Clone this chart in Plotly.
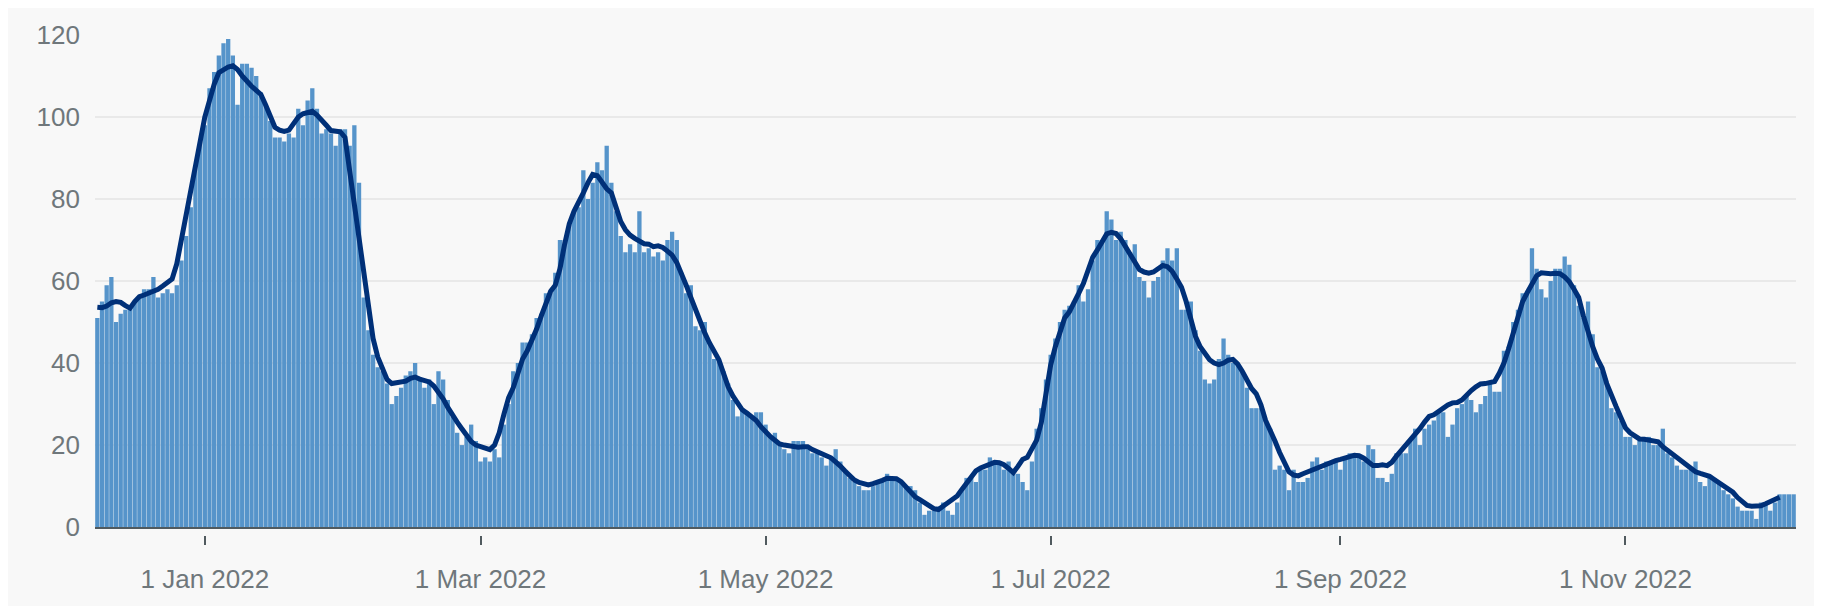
import pandas as pd
import plotly.graph_objects as go

# ---------------- data ----------------
start_date = "2021-12-09"

cases_dec_2021 = [51, 55, 59, 61, 50, 52, 53, 54, 55, 56, 58, 58, 61, 56, 57, 58, 57, 59, 65, 71, 78, 88, 94]
cases_jan_2022 = [98, 107, 111, 115, 118, 119, 115, 103, 113, 113, 112, 110, 106, 103, 99, 95, 95, 94, 96, 95,
                  102, 98, 104, 107, 102, 96, 97, 96, 93, 97, 97]
cases_feb_2022 = [93, 98, 84, 56, 48, 42, 39, 38, 35, 30, 32, 34, 37, 38, 40, 36, 34, 36, 30, 38, 36, 31, 27, 23,
                  20, 22, 25, 21]
cases_mar_2022 = [16, 17, 16, 19, 17, 25, 30, 38, 40, 45, 45, 47, 51, 52, 57, 57, 62, 70, 70, 74, 77, 78, 87, 80,
                  84, 89, 87, 93, 84, 77, 71]
cases_apr_2022 = [67, 69, 67, 77, 67, 68, 66, 67, 65, 70, 72, 70, 62, 57, 59, 49, 48, 50, 45, 41, 41, 38, 35, 31,
                  27, 29, 28, 27, 28, 28]
cases_may_2022 = [25, 22, 23, 20, 19, 18, 21, 21, 21, 19, 18, 18, 17, 15, 17, 19, 16, 14, 12, 11, 10, 9, 9, 10,
                  11, 11, 13, 12, 12, 11, 10]
cases_jun_2022 = [10, 9, 6, 3, 4, 4, 5, 6, 4, 3, 6, 9, 12, 12, 11, 14, 14, 17, 16, 16, 14, 16, 13, 13, 11, 9, 16,
                  24, 29, 36]
cases_jul_2022 = [42, 46, 50, 53, 54, 55, 59, 55, 58, 65, 70, 70, 77, 75, 70, 72, 70, 67, 69, 61, 60, 56, 60, 61,
                  65, 68, 65, 68, 53, 53, 55]
cases_aug_2022 = [48, 43, 36, 35, 36, 41, 46, 42, 40, 40, 38, 34, 29, 29, 29, 26, 24, 14, 15, 14, 9, 14, 11, 11,
                  12, 16, 17, 14, 16, 16, 16]
cases_sep_2022 = [14, 17, 18, 18, 17, 16, 20, 19, 12, 12, 11, 13, 18, 18, 18, 21, 24, 20, 24, 25, 26, 28, 28, 22,
                  25, 29, 30, 32, 31, 28]
cases_oct_2022 = [30, 32, 35, 33, 33, 43, 44, 50, 53, 57, 57, 68, 63, 58, 56, 60, 63, 63, 66, 64, 59, 54, 51, 55,
                  47, 39, 38, 35, 29, 28, 26]
cases_nov_2022 = [22, 22, 20, 21, 22, 22, 20, 20, 24, 18, 17, 15, 14, 14, 14, 16, 11, 10, 12, 12, 11, 9, 8, 7, 5,
                  4, 4, 4, 2, 6]
cases_dec_2022 = [6, 4, 6, 8, 8, 8, 8]

avg_dec_2021 = [53.6, 53.5, 53.9, 54.7, 55.0, 54.8, 54.0, 53.4, 55.0, 56.2, 56.6, 57.0, 57.4, 58.0, 58.8, 59.6,
                60.5, 64.2, 70.0, 76.0, 81.5, 87.0, 94.0]
avg_jan_2022 = [100.0, 104.0, 108.0, 110.8, 111.6, 112.2, 112.5, 111.6, 110.0, 108.5, 107.5, 106.5, 105.5, 103.0,
                100.5, 97.5, 96.8, 96.5, 96.8, 98.5, 100.0, 100.8, 101.2, 101.4, 100.5, 99.4, 98.0, 96.7, 96.5,
                96.4, 95.0]
avg_feb_2022 = [86.5, 79.0, 70.0, 62.0, 53.0, 46.0, 41.5, 38.5, 36.0, 35.0, 35.3, 35.3, 35.6, 36.3, 36.6, 36.1,
                35.9, 35.4, 34.4, 33.0, 31.3, 29.2, 27.2, 25.6, 24.0, 22.4, 20.9, 20.0]
avg_mar_2022 = [19.7, 19.2, 18.9, 20.0, 23.0, 27.5, 31.5, 34.0, 37.5, 41.0, 43.0, 45.5, 48.3, 51.5, 54.5, 57.5,
                59.0, 63.0, 69.0, 74.0, 77.0, 79.0, 81.5, 84.0, 86.0, 85.7, 84.0, 82.5, 81.5, 78.0, 74.5]
avg_apr_2022 = [72.5, 71.2, 70.4, 69.6, 69.1, 69.0, 68.4, 68.6, 68.2, 67.3, 66.3, 64.5, 62.0, 59.0, 56.0, 53.0,
                50.2, 47.3, 44.9, 43.0, 40.8, 37.5, 34.2, 32.0, 30.2, 28.6, 27.8, 26.9, 26.0, 24.5]
avg_may_2022 = [23.1, 22.1, 21.2, 20.3, 20.0, 19.8, 19.6, 19.5, 19.6, 19.6, 18.9, 18.3, 17.8, 17.4, 16.9, 16.0,
                14.9, 13.7, 12.5, 11.5, 10.9, 10.6, 10.3, 10.6, 10.9, 11.4, 11.9, 12.0, 11.8, 11.1, 9.8]
avg_jun_2022 = [8.5, 7.4, 6.7, 5.9, 5.2, 4.5, 4.3, 5.1, 5.9, 6.8, 7.6, 9.2, 10.6, 12.4, 13.7, 14.4, 14.8, 15.3,
                15.8, 15.7, 15.2, 14.3, 13.3, 14.8, 16.5, 17.0, 19.0, 21.2, 25.5, 32.5]
avg_jul_2022 = [39.5, 44.0, 48.0, 51.0, 52.5, 54.5, 57.0, 59.4, 62.7, 65.8, 67.6, 69.7, 71.5, 71.9, 71.6, 70.3,
                68.5, 66.5, 64.5, 62.8, 62.2, 61.9, 62.2, 63.2, 63.8, 63.5, 62.4, 60.5, 58.5, 55.0, 50.5]
avg_aug_2022 = [46.5, 44.0, 42.2, 40.8, 40.0, 39.6, 40.0, 40.7, 40.9, 39.8, 38.0, 36.0, 33.8, 32.5, 29.8, 26.0,
                23.7, 21.0, 18.2, 15.5, 13.5, 12.7, 12.5, 13.0, 13.5, 14.0, 14.5, 15.0, 15.5, 15.9, 16.2]
avg_sep_2022 = [16.5, 17.0, 17.2, 17.5, 17.4, 16.8, 16.0, 15.0, 15.0, 15.2, 15.0, 15.8, 17.3, 18.6, 20.1, 21.2,
                22.7, 24.0, 25.6, 27.0, 27.4, 28.2, 29.1, 29.8, 30.3, 30.4, 31.0, 32.3, 33.3, 34.2]
avg_oct_2022 = [34.9, 35.0, 35.2, 35.5, 37.5, 40.0, 43.5, 47.5, 52.0, 55.0, 57.2, 59.3, 61.3, 62.0, 61.8, 61.8,
                61.9, 61.8, 61.0, 59.8, 58.0, 56.0, 51.5, 47.5, 44.0, 41.0, 38.8, 35.0, 31.8, 29.4, 26.8]
avg_nov_2022 = [24.2, 23.0, 22.2, 21.5, 21.4, 21.3, 21.2, 20.8, 19.6, 18.7, 17.7, 16.9, 16.0, 15.2, 14.2, 13.5,
                13.1, 12.8, 12.4, 11.6, 10.8, 10.2, 9.3, 8.5, 7.2, 6.1, 5.3, 5.1, 5.0, 5.2]
avg_dec_2022 = [5.7, 6.3, 6.8, 7.3]

tick_dates = ["2022-01-01", "2022-03-01", "2022-05-01", "2022-07-01", "2022-09-01", "2022-11-01"]
tick_labels = ["1 Jan 2022", "1 Mar 2022", "1 May 2022", "1 Jul 2022", "1 Sep 2022", "1 Nov 2022"]
y_ticks = [0, 20, 40, 60, 80, 100, 120]

# ---------------- assemble ----------------
daily_cases = (cases_dec_2021 + cases_jan_2022 + cases_feb_2022 + cases_mar_2022 + cases_apr_2022 +
               cases_may_2022 + cases_jun_2022 + cases_jul_2022 + cases_aug_2022 + cases_sep_2022 +
               cases_oct_2022 + cases_nov_2022 + cases_dec_2022)
rolling_avg = (avg_dec_2021 + avg_jan_2022 + avg_feb_2022 + avg_mar_2022 + avg_apr_2022 + avg_may_2022 +
               avg_jun_2022 + avg_jul_2022 + avg_aug_2022 + avg_sep_2022 + avg_oct_2022 + avg_nov_2022 +
               avg_dec_2022)

dates = pd.date_range(start_date, periods=len(daily_cases), freq="D")
avg_dates = dates[:len(rolling_avg)]
x_range = [dates[0] - pd.Timedelta(hours=12), dates[-1] + pd.Timedelta(hours=12)]

# ---------------- figure ----------------
# the page body adds an 8px offset, so the figure is 8px smaller and margins compensate
PAGE_OFFSET = 8
W, H = 1822 - PAGE_OFFSET, 606 - PAGE_OFFSET
ML, MR, MT, MB = 95 - PAGE_OFFSET, 26, 32 - PAGE_OFFSET, 67
plot_h = H - MT - MB
font_family = "Liberation Sans, Arial, sans-serif"
label_color = "#6f777b"
axis_color = "#505a5f"

fig = go.Figure()
fig.add_trace(go.Bar(
    x=dates, y=daily_cases, name="Daily",
    marker=dict(color="#5694ca", line=dict(width=0)),
    xaxis="x", yaxis="y",
))
fig.add_trace(go.Scatter(
    x=avg_dates, y=rolling_avg, name="7-day average", mode="lines",
    line=dict(color="#003078", width=5),
    xaxis="x2", yaxis="y",
))

fig.update_layout(
    width=W, height=H, autosize=False,
    margin=dict(l=ML, r=MR, t=MT, b=MB, pad=0),
    paper_bgcolor="#f8f8f8", plot_bgcolor="#f8f8f8",
    showlegend=False, bargap=0.08,
    font=dict(family=font_family, size=26, color=label_color),
    xaxis=dict(
        type="date", range=x_range, anchor="y",
        showgrid=False, zeroline=False,
        showline=True, linecolor=axis_color, linewidth=2,
        ticks="", showticklabels=False, fixedrange=True,
    ),
    xaxis2=dict(
        type="date", matches="x", overlaying="x", anchor="free", position=0,
        showgrid=False, zeroline=False, showline=False,
        ticks="outside", ticklen=9, tickwidth=2, tickcolor=axis_color,
        tickmode="array", tickvals=tick_dates, ticktext=tick_labels,
        tickfont=dict(family=font_family, size=26, color=label_color),
        ticklabelstandoff=12,
    ),
    yaxis=dict(
        domain=[8 / plot_h, 1], range=[0, 120],
        tickmode="array", tickvals=y_ticks,
        showgrid=True, gridcolor="#e9e9e9", gridwidth=1.5,
        zeroline=False, showline=False, ticks="",
        tickfont=dict(family=font_family, size=26, color=label_color),
        ticklabelstandoff=14,
    ),
)

fig.write_html("out.html")
